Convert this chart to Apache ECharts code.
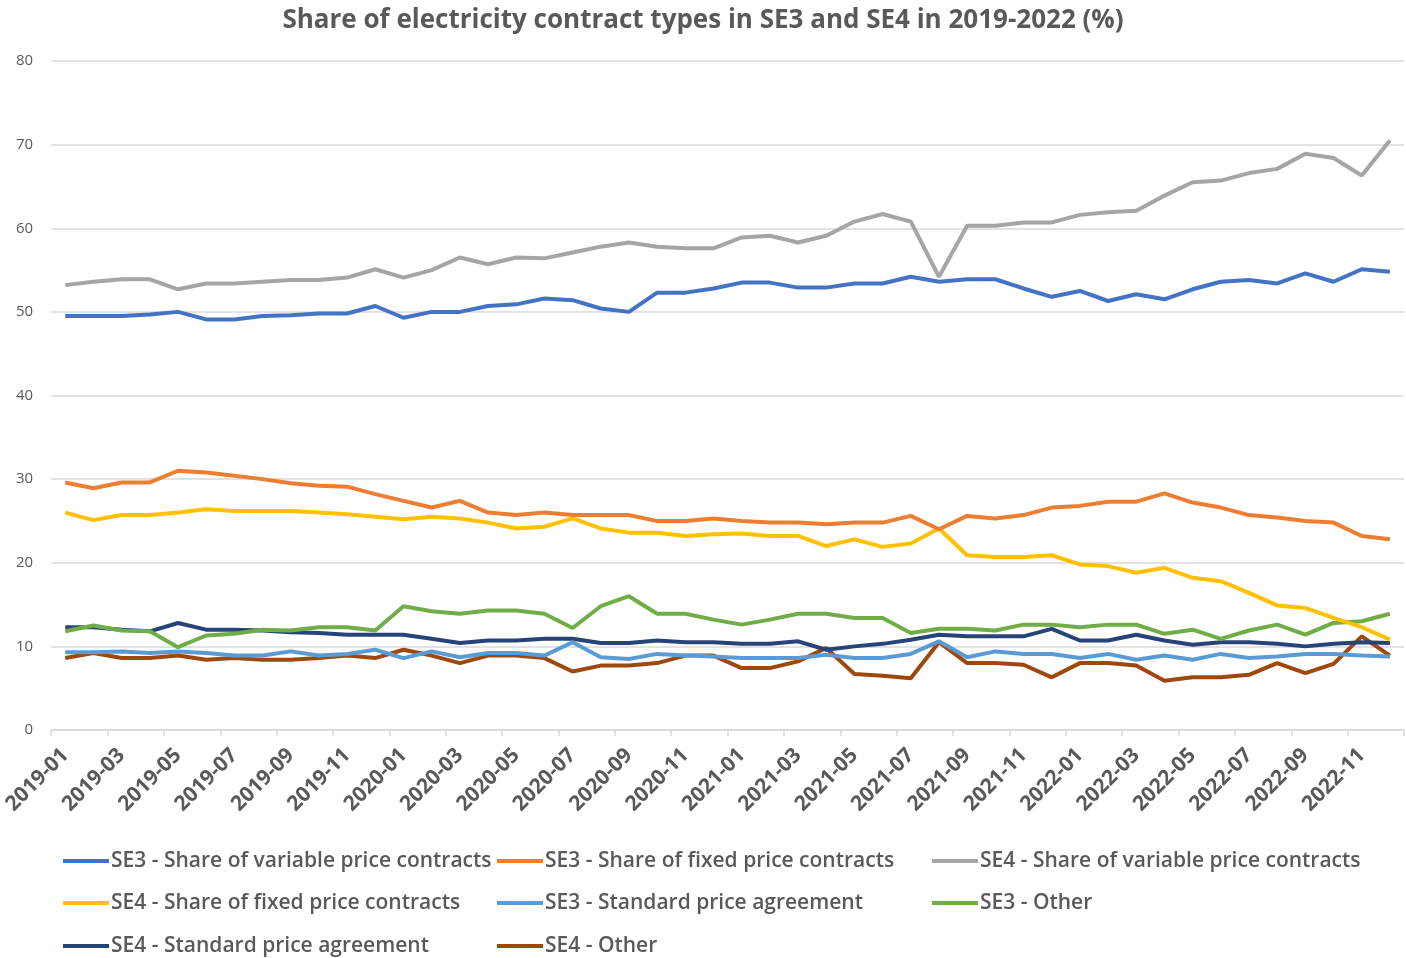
<!DOCTYPE html>
<html>
<head>
<meta charset="utf-8">
<script src="https://cdn.jsdelivr.net/npm/echarts@6/dist/echarts.min.js"></script>
<style>
    html, body { margin: 0; padding: 0; background: #fff; }
    #chart { width: 1406px; height: 958px; }
</style>
</head>
<body>
<div id="chart"></div>
<script>
// months 2019-01 .. 2022-12
var months = [];
for (var y = 2019; y <= 2022; y++) {
    for (var m = 1; m <= 12; m++) {
        months.push(y + '-' + (m < 10 ? '0' + m : m));
    }
}
var yTicks = [0, 10, 20, 30, 40, 50, 60, 70, 80];

var se3Variable = [49.5, 49.5, 49.5, 49.7, 50.0, 49.1, 49.1, 49.5, 49.6, 49.8, 49.8, 50.7,
    49.3, 50.0, 50.0, 50.7, 50.9, 51.6, 51.4, 50.4, 50.0, 52.3, 52.3, 52.8,
    53.5, 53.5, 52.9, 52.9, 53.4, 53.4, 54.2, 53.6, 53.9, 53.9, 52.8, 51.8,
    52.5, 51.3, 52.1, 51.5, 52.7, 53.6, 53.8, 53.4, 54.6, 53.6, 55.1, 54.8];
var se3Fixed = [29.6, 28.9, 29.6, 29.6, 31.0, 30.8, 30.4, 30.0, 29.5, 29.2, 29.1, 28.2,
    27.4, 26.6, 27.4, 26.0, 25.7, 26.0, 25.7, 25.7, 25.7, 25.0, 25.0, 25.3,
    25.0, 24.8, 24.8, 24.6, 24.8, 24.8, 25.6, 24.0, 25.6, 25.3, 25.7, 26.6,
    26.8, 27.3, 27.3, 28.3, 27.2, 26.6, 25.7, 25.4, 25.0, 24.8, 23.2, 22.8];
var se4Variable = [53.2, 53.6, 53.9, 53.9, 52.7, 53.4, 53.4, 53.6, 53.8, 53.8, 54.1, 55.1,
    54.1, 55.0, 56.5, 55.7, 56.5, 56.4, 57.1, 57.8, 58.3, 57.8, 57.6, 57.6,
    58.9, 59.1, 58.3, 59.1, 60.8, 61.7, 60.8, 54.2, 60.3, 60.3, 60.7, 60.7,
    61.6, 61.9, 62.1, 63.9, 65.5, 65.7, 66.6, 67.1, 68.9, 68.4, 66.3, 70.5];
var se4Fixed = [26.0, 25.1, 25.7, 25.7, 26.0, 26.4, 26.2, 26.2, 26.2, 26.0, 25.8, 25.5,
    25.2, 25.5, 25.3, 24.8, 24.1, 24.3, 25.3, 24.1, 23.6, 23.6, 23.2, 23.4,
    23.5, 23.2, 23.2, 22.0, 22.8, 21.9, 22.3, 24.1, 20.9, 20.7, 20.7, 20.9,
    19.8, 19.6, 18.8, 19.4, 18.2, 17.8, 16.4, 14.9, 14.6, 13.4, 12.3, 10.8];
var se3Standard = [9.3, 9.3, 9.4, 9.2, 9.4, 9.2, 8.9, 8.9, 9.4, 8.9, 9.1, 9.6,
    8.6, 9.4, 8.7, 9.2, 9.2, 8.9, 10.5, 8.7, 8.5, 9.1, 8.9, 8.8,
    8.6, 8.6, 8.6, 9.0, 8.6, 8.6, 9.1, 10.6, 8.7, 9.4, 9.1, 9.1,
    8.6, 9.1, 8.4, 8.9, 8.4, 9.1, 8.6, 8.8, 9.1, 9.1, 8.9, 8.8];
var se3Other = [11.8, 12.5, 11.9, 11.8, 9.9, 11.3, 11.5, 12.0, 11.9, 12.3, 12.3, 11.9,
    14.8, 14.2, 13.9, 14.3, 14.3, 13.9, 12.2, 14.8, 16.0, 13.9, 13.9, 13.2,
    12.6, 13.2, 13.9, 13.9, 13.4, 13.4, 11.6, 12.1, 12.1, 11.9, 12.6, 12.6,
    12.3, 12.6, 12.6, 11.5, 12.0, 10.9, 11.9, 12.6, 11.4, 12.8, 13.0, 13.9];
var se4Standard = [12.3, 12.3, 12.0, 11.8, 12.8, 12.0, 12.0, 11.9, 11.7, 11.6, 11.4, 11.4,
    11.4, 10.9, 10.4, 10.7, 10.7, 10.9, 10.9, 10.4, 10.4, 10.7, 10.5, 10.5,
    10.3, 10.3, 10.6, 9.6, 10.0, 10.3, 10.8, 11.4, 11.2, 11.2, 11.2, 12.1,
    10.7, 10.7, 11.4, 10.7, 10.2, 10.5, 10.5, 10.3, 10.0, 10.3, 10.5, 10.4];
var se4Other = [8.6, 9.2, 8.6, 8.6, 8.9, 8.4, 8.6, 8.4, 8.4, 8.6, 8.9, 8.6,
    9.6, 8.9, 8.0, 8.9, 8.9, 8.6, 7.0, 7.7, 7.7, 8.0, 8.9, 8.9,
    7.4, 7.4, 8.2, 9.8, 6.7, 6.5, 6.2, 10.5, 8.0, 8.0, 7.8, 6.3,
    8.0, 8.0, 7.7, 5.9, 6.3, 6.3, 6.6, 8.0, 6.8, 7.9, 11.2, 8.9];

var seriesNames = [
    'SE3 - Share of variable price contracts',
    'SE3 - Share of fixed price contracts',
    'SE4 - Share of variable price contracts',
    'SE4 - Share of fixed price contracts',
    'SE3 - Standard price agreement',
    'SE3 - Other',
    'SE4 - Standard price agreement',
    'SE4 - Other'
];
var seriesData = [se3Variable, se3Fixed, se4Variable, se4Fixed, se3Standard, se3Other, se4Standard, se4Other];
var colors = ['#4472C4', '#ED7D31', '#A5A5A5', '#FFC000', '#5B9BD5', '#70AD47', '#264478', '#9E480E'];

var chart = echarts.init(document.getElementById('chart'));
var textFont = '"Open Sans", sans-serif';

//图例：每项单独定位，三列排布
var legendCols = [63, 497, 932];
var legendRows = [850, 892, 935];
var legends = seriesNames.map(function (name, i) {
    return {
        left: legendCols[i % 3],
        top: legendRows[Math.floor(i / 3)],
        padding: 0,
        icon: 'rect',
        itemWidth: 46,
        itemHeight: 4,
        data: [name],
        textStyle: {
            fontFamily: textFont,
            fontWeight: 600,
            fontSize: 21,
            lineHeight: 22,
            color: '#595959',
            padding: [0, 0, 0, -3]
        }
    };
});

var series = seriesNames.map(function (name, i) {
    return {
        name: name,
        type: 'line',
        data: seriesData[i],
        symbol: 'none',
        lineStyle: { width: 4, color: colors[i] },
        itemStyle: { color: colors[i] },
        z: 10 - i
    };
});

var option = {
    animation: false,
    backgroundColor: '#fff',
    title: {
        text: 'Share of electricity contract types in SE3 and SE4 in 2019-2022 (%)',
        left: 'center',
        top: 3,
        textStyle: {
            fontFamily: textFont,
            fontWeight: 'bold',
            fontSize: 26,
            color: '#595959'
        }
    },
    legend: legends,
    grid: {
        left: 50,
        right: 2,
        top: 61,
        bottom: 228
    },
    xAxis: {
        type: 'category',
        data: months,
        boundaryGap: true,
        axisLine: { lineStyle: { color: '#d9d9d9', width: 1.5 } },
        axisTick: { show: true, interval: 1, length: 6, lineStyle: { color: '#d9d9d9', width: 1.5 } },
        axisLabel: {
            interval: 1,
            rotate: 45,
            margin: 22,
            fontFamily: textFont,
            fontWeight: 'bold',
            fontSize: 21,
            color: '#595959'
        },
        splitLine: { show: false }
    },
    yAxis: {
        type: 'value',
        min: yTicks[0],
        max: yTicks[yTicks.length - 1],
        interval: 10,
        axisLine: { show: false },
        axisTick: { show: false },
        axisLabel: {
            margin: 18,
            fontFamily: textFont,
            fontSize: 15,
            color: '#595959'
        },
        splitLine: { lineStyle: { color: '#d9d9d9', width: 1.5 } }
    },
    series: series
};
chart.setOption(option);
</script>
</body>
</html>
